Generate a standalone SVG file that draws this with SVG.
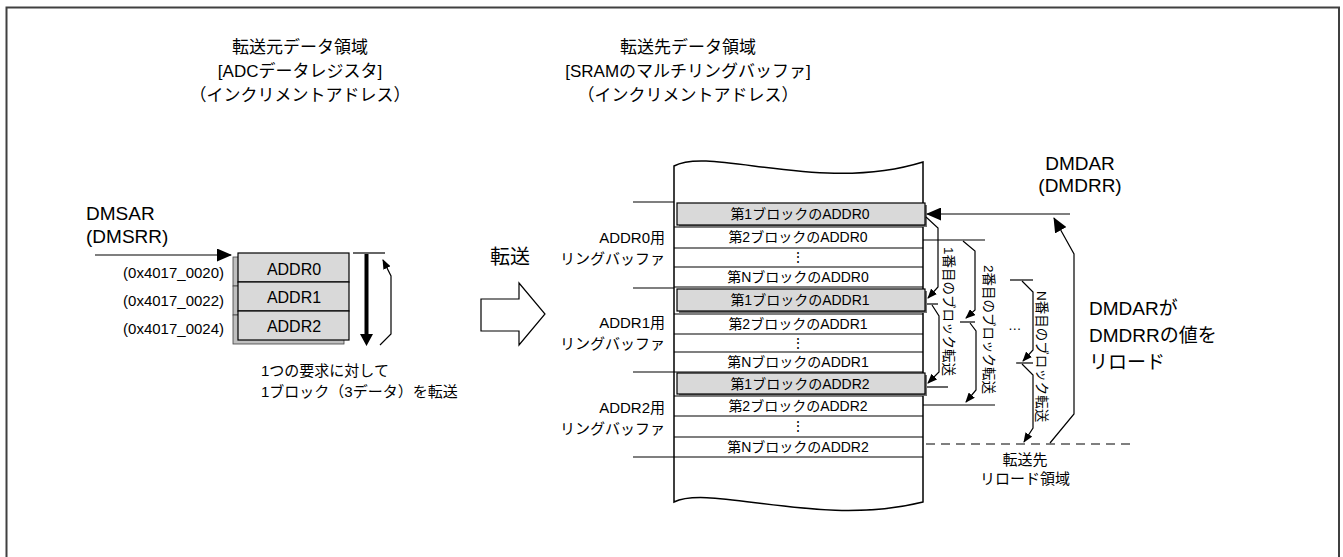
<svg xmlns="http://www.w3.org/2000/svg" width="1343" height="557" viewBox="0 0 1343 557">
<style>
text{font-family:"Liberation Sans","Noto Sans CJK JP",sans-serif;fill:#000}
.t17{font-size:17px}
.t16{font-size:16px}
.t15{font-size:15px}
.t14{font-size:14px}
.t13{font-size:13.5px}
.t19{font-size:19px}
.mid{text-anchor:middle}
.end{text-anchor:end}
.ln{stroke:#000;stroke-width:1.2;fill:none}
.gray{fill:#d9d9d9;stroke:#000;stroke-width:1.2}
.shadow{fill:#bfbfbf;stroke:#404040;stroke-width:0.8}
.gshadow{fill:#707070}
</style>
<defs>
<marker id="ahS" markerUnits="userSpaceOnUse" markerWidth="10" markerHeight="8" refX="9" refY="4" orient="auto"><path d="M0,0 L10,4 L0,8 z" fill="#000"/></marker>
<marker id="ahL" markerUnits="userSpaceOnUse" markerWidth="15" markerHeight="13" refX="14" refY="6.5" orient="auto"><path d="M0,0 L15,6.5 L0,13 z" fill="#000"/></marker>
</defs>
<rect x="6.5" y="7.5" width="1332.5" height="570" fill="none" stroke="#404040" stroke-width="2"/>

<g id="title-src">
<text class="t17 mid" x="300" y="53">転送元データ領域</text>
<text class="t17 mid" x="300" y="77">[ADCデータレジスタ]</text>
<text class="t17 mid" x="300" y="101">（インクリメントアドレス）</text>
</g>
<g id="title-dst">
<text class="t17 mid" x="688" y="53">転送先データ領域</text>
<text class="t17 mid" x="688" y="77">[SRAMのマルチリングバッファ]</text>
<text class="t17 mid" x="688" y="101">（インクリメントアドレス）</text>
</g>

<g id="dmsar-label">
<text class="t19" x="86" y="220">DMSAR</text>
<text class="t19" x="86" y="243">(DMSRR)</text>
</g>

<g id="src-registers">
<rect class="shadow" x="233" y="257" width="111" height="29"/>
<rect class="shadow" x="233" y="286" width="111" height="29"/>
<rect class="shadow" x="233" y="315" width="111" height="29"/>
<rect class="gray" x="238" y="253" width="111" height="29"/>
<rect class="gray" x="238" y="282" width="111" height="29"/>
<rect class="gray" x="238" y="311" width="111" height="29"/>
<text class="t16 mid" x="294" y="275">ADDR0</text>
<text class="t16 mid" x="294" y="303">ADDR1</text>
<text class="t16 mid" x="294" y="332">ADDR2</text>
<text class="t15 end" x="224" y="278">(0x4017_0020)</text>
<text class="t15 end" x="224" y="306">(0x4017_0022)</text>
<text class="t15 end" x="224" y="334">(0x4017_0024)</text>
</g>

<g id="src-note">
<text class="t15" x="261" y="376">1つの要求に対して</text>
<text class="t15" x="261" y="397">1ブロック（3データ）を転送</text>
</g>

<g id="transfer-arrow">
<text x="490" y="264" style="font-size:20px">転送</text>
<polygon points="481,299 519,299 519,283 545,314 519,345 519,331 481,331" fill="#fff" stroke="#000" stroke-width="1.2"/>
</g>

<g id="dst-memory">
<path d="M674,166 C710,146 820,194 923,162 L923,502 C820,528 710,484 674,502 Z" fill="#fff" stroke="#000" stroke-width="1.5"/>
<g class="ln">
<line x1="674" y1="227" x2="923" y2="227"/>
<line x1="674" y1="248" x2="923" y2="248"/>
<line x1="674" y1="267" x2="923" y2="267"/>
<line x1="674" y1="287" x2="923" y2="287"/>
<line x1="674" y1="314" x2="923" y2="314"/>
<line x1="674" y1="334" x2="923" y2="334"/>
<line x1="674" y1="352" x2="923" y2="352"/>
<line x1="674" y1="372" x2="923" y2="372"/>
<line x1="674" y1="396" x2="923" y2="396"/>
<line x1="674" y1="416" x2="923" y2="416"/>
<line x1="674" y1="437" x2="923" y2="437"/>
<line x1="674" y1="457" x2="923" y2="457"/>
<line x1="633" y1="202" x2="674" y2="202"/>
<line x1="633" y1="288" x2="674" y2="288"/>
<line x1="633" y1="372" x2="674" y2="372"/>
<line x1="633" y1="457" x2="674" y2="457"/>
</g>
<rect class="gshadow" x="679" y="205" width="248" height="22"/>
<rect class="gray" x="677" y="203" width="248" height="22"/>
<rect class="gshadow" x="679" y="291" width="248" height="22"/>
<rect class="gray" x="677" y="289" width="248" height="22"/>
<rect class="gshadow" x="679" y="375" width="248" height="21"/>
<rect class="gray" x="677" y="373" width="248" height="21"/>
<text class="t14 mid" x="800" y="219">第1ブロックのADDR0</text>
<text class="t14 mid" x="798" y="242">第2ブロックのADDR0</text>
<text class="t14 mid" x="798" y="262">⋮</text>
<text class="t14 mid" x="798" y="282">第NブロックのADDR0</text>
<text class="t14 mid" x="800" y="305">第1ブロックのADDR1</text>
<text class="t14 mid" x="798" y="329">第2ブロックのADDR1</text>
<text class="t14 mid" x="798" y="348">⋮</text>
<text class="t14 mid" x="798" y="367">第NブロックのADDR1</text>
<text class="t14 mid" x="800" y="389">第1ブロックのADDR2</text>
<text class="t14 mid" x="798" y="411">第2ブロックのADDR2</text>
<text class="t14 mid" x="798" y="431">⋮</text>
<text class="t14 mid" x="798" y="452">第NブロックのADDR2</text>
</g>

<g id="ring-labels">
<text class="t15 end" x="665" y="243">ADDR0用</text>
<text class="t15 end" x="665" y="264">リングバッファ</text>
<text class="t15 end" x="665" y="328">ADDR1用</text>
<text class="t15 end" x="665" y="349">リングバッファ</text>
<text class="t15 end" x="665" y="413">ADDR2用</text>
<text class="t15 end" x="665" y="434">リングバッファ</text>
</g>

<g id="dmdar-label">
<text class="t19 mid" x="1080" y="170">DMDAR</text>
<text class="t19 mid" x="1080" y="192">(DMDRR)</text>
</g>

<g id="reload-label">
<text class="t19" x="1089" y="315">DMDARが</text>
<text class="t19" x="1089" y="342">DMDRRの値を</text>
<text class="t19" x="1089" y="369">リロード</text>
</g>

<g id="reload-area-label">
<text class="t15 mid" x="1025" y="465">転送先</text>
<text class="t15 mid" x="1025" y="484">リロード領域</text>
</g>

<g id="block-labels">
<text class="t13" transform="translate(944,247) rotate(90)">1番目のブロック転送</text>
<text class="t13" transform="translate(984,265) rotate(90)">2番目のブロック転送</text>
<text class="t13" transform="translate(1037,291) rotate(90)">N番目のブロック転送</text>
<text class="t13" x="1008" y="330">…</text>
</g>

<g id="connectors">
<line class="ln" x1="95" y1="255" x2="231" y2="255" marker-end="url(#ahL)"/>
<line class="ln" x1="353" y1="253" x2="385" y2="253"/>
<polygon points="364.5,254 368.5,254 368.5,334 373,334 366.5,346 360,334 364.5,334" fill="#000"/>
<polyline class="ln" points="380,345 391,334 391,276 383,260" marker-end="url(#ahS)"/>
<line class="ln" x1="1070" y1="214" x2="927" y2="214" marker-end="url(#ahL)"/>
<polyline class="ln" points="1050,443 1074,414 1074,254 1054,218" marker-end="url(#ahL)"/>
<line class="ln" x1="926" y1="444" x2="1130" y2="444" stroke-dasharray="9,6"/>
<polyline class="ln" points="926,217 938,228 938,287 928,298" marker-end="url(#ahS)"/>
<line class="ln" x1="927" y1="304" x2="938" y2="304"/>
<polyline class="ln" points="932,305 939,316 939,372 928,383" marker-end="url(#ahS)"/>
<line class="ln" x1="927" y1="387" x2="948" y2="387"/>
<line class="ln" x1="923" y1="240" x2="985" y2="240"/>
<polyline class="ln" points="963,241 975,251 975,310 966,318" marker-end="url(#ahS)"/>
<line class="ln" x1="960" y1="322" x2="975" y2="322"/>
<polyline class="ln" points="970,323 976,331 976,390 966,402" marker-end="url(#ahS)"/>
<line class="ln" x1="923" y1="405" x2="995" y2="405"/>
<line class="ln" x1="1010" y1="280" x2="1033" y2="280"/>
<polyline class="ln" points="1022,281 1033,292 1033,350 1023,361" marker-end="url(#ahS)"/>
<line class="ln" x1="1016" y1="363" x2="1033" y2="363"/>
<polyline class="ln" points="1022,364 1033,375 1033,428 1024,442" marker-end="url(#ahS)"/>
</g>
</svg>
